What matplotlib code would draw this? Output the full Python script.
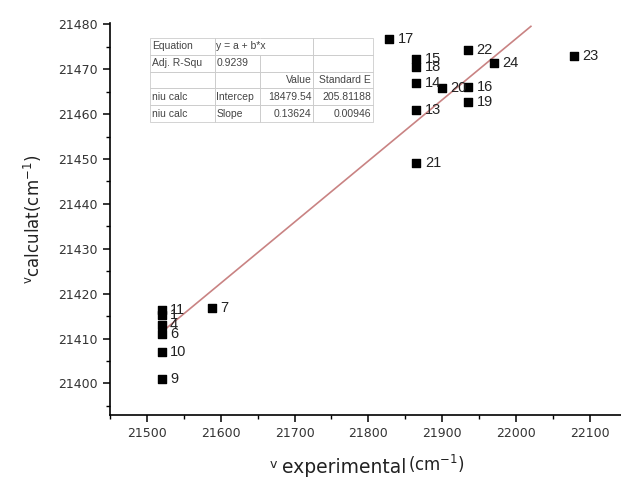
import matplotlib.pyplot as plt
from matplotlib.ticker import MultipleLocator

plt.rcParams['font.family'] = ['DejaVu Sans']
plt.rcParams['mathtext.fontset'] = 'dejavusans'

# experimental vs calculated wavenumbers (cm-1)
labels = ['11', '1', '4', '6', '10', '9', '7', '17', '15', '18', '14', '13', '21',
          '20', '22', '16', '19', '24', '23']
nu_exp = [21520, 21520, 21520, 21520, 21520, 21520, 21588, 21828, 21865, 21865, 21865,
          21865, 21865, 21900, 21935, 21935, 21935, 21970, 22078]
nu_calc = [21416.4, 21415.3, 21413.1, 21411.1, 21406.9, 21401.1, 21416.7, 21476.7,
           21472.2, 21470.4, 21466.9, 21460.9, 21449.0, 21465.8, 21474.2, 21466.0,
           21462.7, 21471.3, 21472.9]

# linear fit y = a + b*x
a = 18479.54
b = 0.13624
fit_x = [21520, 22020]

table_rows = [
    ['Equation', 'y = a + b*x', '', ''],
    ['Adj. R-Squ', '0.9239', '', ''],
    ['', '', 'Value', 'Standard E'],
    ['niu calc', 'Intercep', '18479.54', '205.81188'],
    ['niu calc', 'Slope', '0.13624', '0.00946'],
]

fig = plt.figure(figsize=(6.21, 4.78), dpi=100)
ax = fig.add_axes([0.177, 0.132, 0.823, 0.82])

ax.plot(fit_x, [a + b * x for x in fit_x], color='#c98383', lw=1.2, zorder=1)
ax.scatter(nu_exp, nu_calc, marker='s', s=28, color='black', zorder=2)
for lab, x, y in zip(labels, nu_exp, nu_calc):
    ax.annotate(lab, (x, y), xytext=(6, 0), textcoords='offset points',
                va='center', ha='left', fontsize=10.5, color='#222222',
                family='Liberation Sans')

ax.set_xlim(21450, 22142)
ax.set_ylim(21393, 21480.3)
ax.xaxis.set_major_locator(MultipleLocator(100))
ax.xaxis.set_minor_locator(MultipleLocator(50))
ax.yaxis.set_major_locator(MultipleLocator(10))
ax.yaxis.set_minor_locator(MultipleLocator(5))
for s in ['top', 'right']:
    ax.spines[s].set_visible(False)
for s in ['left', 'bottom']:
    ax.spines[s].set_linewidth(1.2)
ax.tick_params(which='major', direction='out', length=5, width=1.1,
               labelsize=9, labelcolor='#333333')
ax.tick_params(which='minor', direction='out', length=3, width=1.0)

# x label built from pieces: small v, experimental, raised (cm-1)
t_exp = ax.text(0.459, -0.148, 'experimental', transform=ax.transAxes,
                ha='center', va='baseline', fontsize=13.5, color='#222222')
ax.annotate('v', xy=(0, 0.3), xycoords=t_exp, xytext=(-4, 0),
            textcoords='offset points', ha='right', va='bottom',
            fontsize=9, color='#222222')
ax.annotate('(cm$^{-1}$)', xy=(1, 0.12), xycoords=t_exp, xytext=(1, 0),
            textcoords='offset points', ha='left', va='bottom',
            fontsize=12, color='#222222')

ax.set_ylabel(r'$^{\mathrm{v}}$calculat(cm$^{-1}$)', fontsize=12, color='#222222')
ax.yaxis.set_label_coords(-0.128, 0.5)

tab = ax.table(cellText=table_rows, cellLoc='left',
               colWidths=[65, 45, 53, 60],
               bbox=[(150 - 110) / 511, (415 - 122) / 392, 223 / 511, 84 / 392])
tab.auto_set_font_size(False)
tab.set_fontsize(7.5)
for (r, c), cell in tab.get_celld().items():
    cell.set_edgecolor('#cccccc')
    cell.set_linewidth(0.6)
    cell.set_facecolor('none')
    cell.get_text().set_color('#444444')
    cell.get_text().set_family('Liberation Sans')
    cell.PAD = 0.03
    if r >= 2 and c >= 2:
        cell.get_text().set_horizontalalignment('right')
        cell._loc = 'right'
# equation text runs over into the next column
tab[0, 1].visible_edges = 'BTL'
tab[0, 2].visible_edges = 'BTR'

fig.savefig('out.png', dpi=100)
